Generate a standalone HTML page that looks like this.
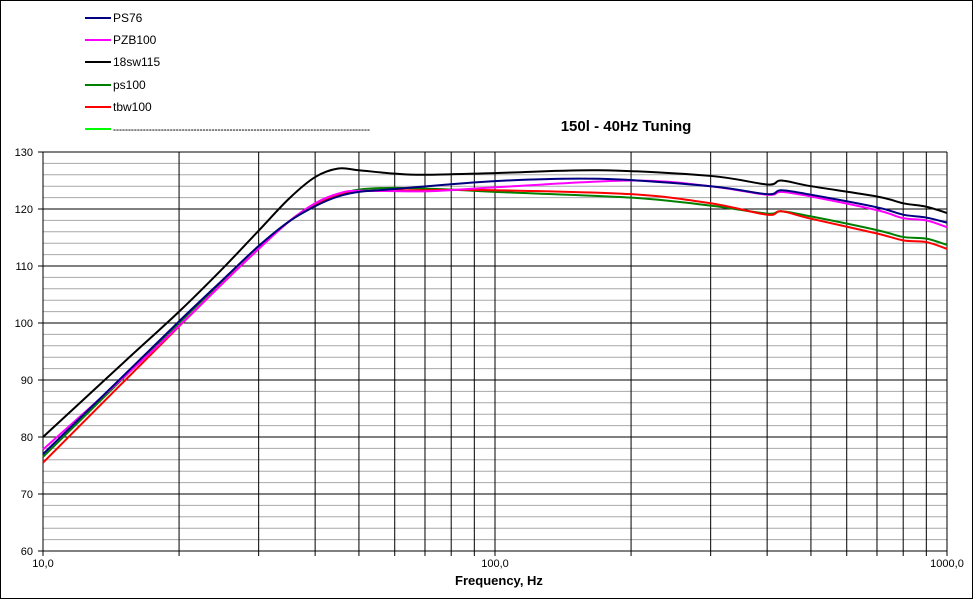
<!DOCTYPE html><html><head><style>body{margin:0;background:#fff}svg{display:block;font-family:"Liberation Sans",sans-serif}</style></head><body>
<svg id="s" width="973" height="599" xmlns="http://www.w3.org/2000/svg">
<rect x="0.5" y="0.5" width="972" height="598" fill="#fff" stroke="#000"/>
<g id="grid"></g>
<g font-size="12" fill="#000">
<line x1="85" y1="18" x2="111" y2="18" stroke="#000080" stroke-width="2"/><text x="113" y="22">PS76</text>
<line x1="85" y1="40" x2="111" y2="40" stroke="#ff00ff" stroke-width="2"/><text x="113" y="44">PZB100</text>
<line x1="85" y1="62" x2="111" y2="62" stroke="#000" stroke-width="2"/><text x="113" y="66">18sw115</text>
<line x1="85" y1="85" x2="111" y2="85" stroke="#008000" stroke-width="2"/><text x="113" y="89">ps100</text>
<line x1="85" y1="107" x2="111" y2="107" stroke="#ff0000" stroke-width="2"/><text x="113" y="111">tbw100</text>
<line x1="85" y1="129" x2="111" y2="129" stroke="#00ff00" stroke-width="2"/><text x="113" y="133" textLength="257" lengthAdjust="spacingAndGlyphs">--------------------------------------------------------------------------------------</text>
</g>
<text x="626" y="131" font-size="15" font-weight="bold" text-anchor="middle">150l - 40Hz Tuning</text>
<text x="499" y="585" font-size="13" font-weight="bold" text-anchor="middle">Frequency, Hz</text>
<g id="curves" fill="none" stroke-width="2"></g>
</svg>
<script>
var X=f=>43+452*Math.log10(f/10),Y=d=>152+(130-d)*5.7;
var g=document.getElementById('grid'),h='';
for(var d=60;d<=130;d+=2){var y=Y(d);if(d%10)h+='<line x1="43" x2="947" y1="'+y+'" y2="'+y+'" stroke="#a8a8a8" stroke-width="1"/>';}
for(var d=60;d<=130;d+=10){var y=Y(d);h+='<line x1="38" x2="947" y1="'+y+'" y2="'+y+'" stroke="#000"/>';h+='<text x="33" y="'+(y+4)+'" font-size="11" text-anchor="end">'+d+'</text>';}
[10,100].forEach(b=>{for(var k=1;k<10;k++){var x=X(b*k);h+='<line x1="'+x+'" x2="'+x+'" y1="152" y2="556" stroke="#000"/>';}});
h+='<line x1="947" x2="947" y1="152" y2="556" stroke="#000"/>';
[[10,'10,0'],[100,'100,0'],[1000,'1000,0']].forEach(a=>h+='<text x="'+X(a[0])+'" y="567" font-size="11" text-anchor="middle">'+a[1]+'</text>');
g.innerHTML=h;
var C={
"#008000":[[10,76.5],[15,90.2],[20,100],[25,107.5],[30,113.5],[35,117.8],[40,120.5],[45,122.4],[50,123.4],[60,123.7],[80,123.4],[100,123],[200,122],[300,120.6],[400,119.2],[430,119.6],[500,118.7],[700,116.3],[800,115.1],[900,114.8],[1000,113.7]],
"#ff0000":[[10,75.5],[15,89.5],[20,99.4],[25,107],[30,113],[35,117.8],[40,120.8],[45,122.4],[50,123.1],[70,123.3],[100,123.3],[200,122.6],[300,121],[400,119],[430,119.6],[500,118.3],[700,115.7],[800,114.5],[900,114.2],[1000,113]],
"#ff00ff":[[10,77.8],[15,90.3],[20,99.5],[25,107],[30,113],[35,117.8],[40,121],[45,122.7],[50,123.2],[70,123.1],[100,123.8],[200,125],[300,124],[400,122.5],[430,123],[500,122.2],[700,119.8],[800,118.4],[900,118],[1000,116.8]],
"#000080":[[10,77],[15,90.6],[20,100.3],[25,107.6],[30,113.5],[35,117.8],[40,120.5],[45,122.2],[50,123],[60,123.5],[100,124.9],[170,125.3],[300,124],[400,122.6],[430,123.3],[500,122.5],[700,120.3],[800,119],[900,118.5],[1000,117.6]],
"#000000":[[10,80],[15,92.9],[20,102],[25,109.6],[30,116.2],[35,121.8],[40,125.6],[45,127.1],[50,126.8],[60,126.2],[70,126],[100,126.3],[170,126.8],[300,125.8],[400,124.3],[430,125],[500,124],[700,122.2],[800,121],[900,120.4],[1000,119.3]]};
var out='';
for(var c in C){var p=C[c].map(a=>[X(a[0]),Y(a[1])]);var s='M'+p[0][0]+','+p[0][1];
for(var i=0;i<p.length-1;i++){var a=p[i-1]||p[i],b=p[i],q=p[i+1],e=p[i+2]||q;
s+='C'+(b[0]+(q[0]-a[0])/6)+','+(b[1]+(q[1]-a[1])/6)+' '+(q[0]-(e[0]-b[0])/6)+','+(q[1]-(e[1]-b[1])/6)+' '+q[0]+','+q[1];}
out+='<path d="'+s+'" stroke="'+c+'"/>';}
document.getElementById('curves').innerHTML=out;
</script></body></html>
